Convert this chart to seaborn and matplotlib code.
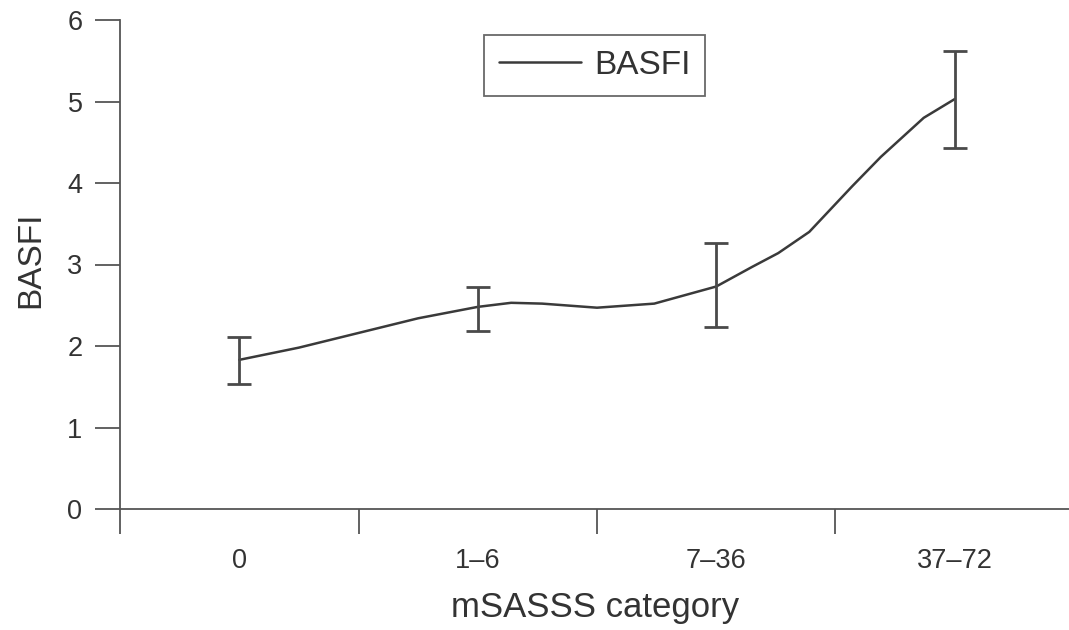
import numpy as np
import pandas as pd
import matplotlib
matplotlib.use("Agg")
import matplotlib.pyplot as plt
import seaborn as sns
from matplotlib.ticker import FixedLocator

# ---- data ----
categories = ["0", "1–6", "7–36", "37–72"]
means = [1.83, 2.48, 2.73, 5.03]
lower = [1.53, 2.19, 2.23, 4.43]
upper = [2.11, 2.73, 3.26, 5.62]

# smoothed line (category position, BASFI)
curve_pos = [0.0, 0.25, 0.5, 0.75, 1.0, 1.14, 1.27, 1.5, 1.74, 2.0, 2.15,
             2.26, 2.39, 2.57, 2.69, 2.87, 3.0]
curve_val = [1.83, 1.98, 2.16, 2.34, 2.48, 2.53, 2.52, 2.47, 2.52, 2.73, 2.97,
             3.14, 3.40, 3.96, 4.32, 4.80, 5.03]

yticks = [0, 1, 2, 3, 4, 5, 6]

sns.set_theme(style="white")
plt.rcParams["font.family"] = ["Liberation Sans", "DejaVu Sans"]

W, H = 1069, 630
fig = plt.figure(figsize=(W / 100, H / 100), dpi=100)
ax_l, ax_r, ax_t, ax_b = 120, 1069, 20, 509
ax = fig.add_axes([ax_l / W, (H - ax_b) / H, (ax_r - ax_l) / W, (ax_b - ax_t) / H])

line_col = "#3a3a3a"
spine_col = "#555555"
text_col = "#333333"

df = pd.DataFrame({"pos": curve_pos, "BASFI": curve_val})
sns.lineplot(data=df, x="pos", y="BASFI", sort=False, ax=ax, color=line_col,
             lw=1.8, label="BASFI", estimator=None)

xc = np.arange(len(categories))
m = np.array(means)
err = np.vstack([m - np.array(lower), np.array(upper) - m])
ax.errorbar(xc, m, yerr=err, fmt="none", ecolor="#4a4a4a", elinewidth=2.0,
            capsize=8.5, capthick=2.0)

# axes limits (category units)
px_per_cat = 238.5
ax.set_xlim(-0.5, -0.5 + (ax_r - ax_l) / px_per_cat)
ax.set_ylim(0, 6)

# ticks
ax.xaxis.set_major_locator(FixedLocator([-0.5, 0.5, 1.5, 2.5, 3.5]))
ax.set_xticklabels([])
ax.xaxis.set_minor_locator(FixedLocator(list(xc)))
ax.set_xticklabels(categories, minor=True)
ax.tick_params(axis="x", which="major", length=18, width=1.3, color=spine_col,
               direction="out", bottom=True)
ax.tick_params(axis="x", which="minor", length=0, pad=28, labelsize=19.5,
               labelcolor=text_col, bottom=True)
ax.set_yticks(yticks)
ax.tick_params(axis="y", length=18, width=1.3, color=spine_col, direction="out",
               pad=9, labelsize=19.5, labelcolor=text_col, left=True)

for s in ["top", "right"]:
    ax.spines[s].set_visible(False)
for s in ["left", "bottom"]:
    ax.spines[s].set_color(spine_col)
    ax.spines[s].set_linewidth(1.3)

ax.set_xlabel("mSASSS category", fontsize=25, color=text_col)
ax.set_ylabel("BASFI", fontsize=24, color=text_col)
ax.xaxis.set_label_coords((595 - ax_l) / (ax_r - ax_l), (ax_b - 591) / (ax_b - ax_t))
ax.yaxis.set_label_coords((46 - ax_l) / (ax_r - ax_l), (ax_b - 260) / (ax_b - ax_t))

leg = ax.legend(loc="upper left",
                bbox_to_anchor=((484 - ax_l) / (ax_r - ax_l), (ax_b - 35) / (ax_b - ax_t)),
                frameon=True, fancybox=False, fontsize=24, handlelength=2.45,
                borderpad=0.45, handletextpad=0.4, borderaxespad=0)
leg.get_frame().set_edgecolor("#444444")
leg.get_frame().set_linewidth(1.3)
for t in leg.get_texts():
    t.set_color(text_col)

fig.savefig("out.png", dpi=100, facecolor="white")
